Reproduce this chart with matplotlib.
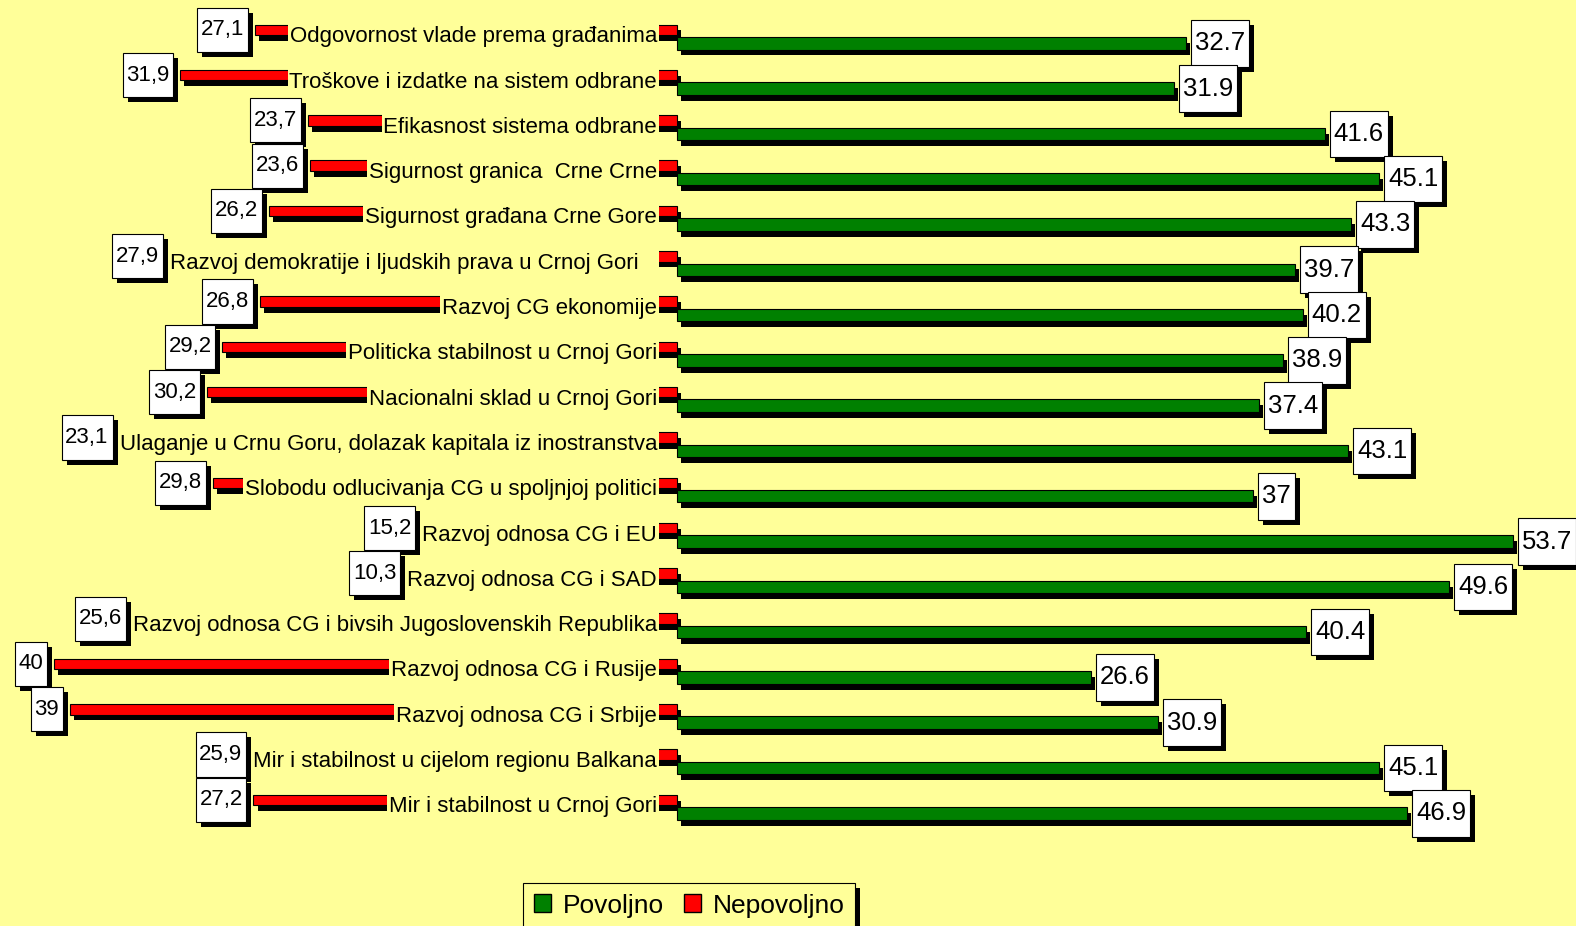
import functools

import matplotlib
matplotlib.use("Agg")
import matplotlib.pyplot as plt
import matplotlib.patheffects as pe
import numpy as np
from matplotlib.patches import Patch
from matplotlib.path import Path

categories = [
    "Odgovornost vlade prema građanima",
    "Troškove i izdatke na sistem odbrane",
    "Efikasnost sistema odbrane",
    "Sigurnost granica  Crne Crne",
    "Sigurnost građana Crne Gore",
    "Razvoj demokratije i ljudskih prava u Crnoj Gori   ",
    "Razvoj CG ekonomije",
    "Politicka stabilnost u Crnoj Gori",
    "Nacionalni sklad u Crnoj Gori",
    "Ulaganje u Crnu Goru, dolazak kapitala iz inostranstva",
    "Slobodu odlucivanja CG u spoljnjoj politici",
    "Razvoj odnosa CG i EU",
    "Razvoj odnosa CG i SAD",
    "Razvoj odnosa CG i bivsih Jugoslovenskih Republika",
    "Razvoj odnosa CG i Rusije",
    "Razvoj odnosa CG i Srbije",
    "Mir i stabilnost u cijelom regionu Balkana",
    "Mir i stabilnost u Crnoj Gori",
]
povoljno = [32.7, 31.9, 41.6, 45.1, 43.3, 39.7, 40.2, 38.9, 37.4,
            43.1, 37, 53.7, 49.6, 40.4, 26.6, 30.9, 45.1, 46.9]
nepovoljno = [27.1, 31.9, 23.7, 23.6, 26.2, 27.9, 26.8, 29.2, 30.2,
              23.1, 29.8, 15.2, 10.3, 25.6, 40, 39, 25.9, 27.2]

BG = "#FFFF99"
GREEN = "#008000"
RED = "#FF0000"
FONT = "Liberation Sans"


def tall_box(x0, y0, width, height, mutation_size, padx=0.2, pady=0.4):
    # rectangle with separate horizontal / vertical padding
    px = padx * mutation_size
    py = pady * mutation_size
    return Path([(x0 - px, y0 - py), (x0 + width + px, y0 - py),
                 (x0 + width + px, y0 + height + py), (x0 - px, y0 + height + py),
                 (x0 - px, y0 - py)], closed=True)


fig = plt.figure(figsize=(15.76, 9.26), dpi=100, facecolor=BG)
ax = fig.add_axes([0, 0, 1, 1])
ax.set_facecolor(BG)
ax.axis("off")

# pixel layout: zero at x=677, 15.57 px per unit, rows 45.3 px apart
PX = 15.57
X0 = 677
ROW = 45.3
Y0 = 36.5
ax.set_xlim(-X0 / PX, (1576 - X0) / PX)
ax.set_ylim((926 - Y0) / ROW, -Y0 / ROW)

rows = np.arange(len(categories))
off = 6.75 / ROW

bar_shadow = [pe.SimplePatchShadow(offset=(2.9, -4.3), shadow_rgbFace="black", alpha=1), pe.Normal()]
box_shadow = [pe.SimplePatchShadow(offset=(3.6, -3.6), shadow_rgbFace="black", alpha=1), pe.Normal()]

ax.barh(rows - off, [-v for v in nepovoljno], height=10.5 / ROW, color=RED,
        edgecolor="black", linewidth=0.8, path_effects=bar_shadow, zorder=2)
ax.barh(rows + off, povoljno, height=12.5 / ROW, color=GREEN,
        edgecolor="black", linewidth=0.8, path_effects=bar_shadow, zorder=2)

labels = []
label_x = (657 - X0) / PX
for i, name in enumerate(categories):
    t = ax.text(label_x, i + 5.75 / ROW, name, ha="right", va="baseline",
                fontsize=16, family=FONT, zorder=3,
                bbox=dict(boxstyle=functools.partial(tall_box, padx=0.08, pady=0.22),
                          fc=BG, ec="none"))
    labels.append(t)

# green value labels
for i, v in enumerate(povoljno):
    ax.text(v + (5 + 0.15 * 25.7) / PX, i + off, f"{v:g}", ha="left", va="center",
            fontsize=18.5, family=FONT, zorder=5,
            bbox=dict(boxstyle=functools.partial(tall_box, padx=0.15, pady=0.44),
                      fc="white", ec="black", lw=0.8, path_effects=box_shadow))

# red value labels sit left of the bar end or the category text
fig.canvas.draw()
renderer = fig.canvas.get_renderer()
for i, v in enumerate(nepovoljno):
    ext = labels[i].get_window_extent(renderer)
    bar_px = ax.transData.transform((-v, 0))[0]
    right_px = min(bar_px, ext.x0) - 7 - 0.17 * 22.2
    xr = ax.transData.inverted().transform((right_px, 0))[0]
    ax.text(xr, i - off, f"{v:g}".replace(".", ","), ha="right", va="center",
            fontsize=16, family=FONT, zorder=5,
            bbox=dict(boxstyle=functools.partial(tall_box, padx=0.17, pady=0.52),
                      fc="white", ec="black", lw=0.8, path_effects=box_shadow))

handles = [Patch(fc=GREEN, ec="black", label="Povoljno"),
           Patch(fc=RED, ec="black", label="Nepovoljno")]
leg = fig.legend(handles=handles, ncol=2, loc="upper left",
                 bbox_to_anchor=(523 / 1576, 1 - 883 / 926),
                 frameon=True, fancybox=False, edgecolor="black", facecolor=BG,
                 framealpha=1, prop={"family": FONT, "size": 19},
                 handlelength=0.65, handleheight=0.65, handletextpad=0.45,
                 columnspacing=0.75, borderpad=0.4, borderaxespad=0)
leg.get_frame().set_linewidth(0.8)
leg.get_frame().set_path_effects(box_shadow)

fig.savefig("out.png", dpi=100, facecolor=BG)
